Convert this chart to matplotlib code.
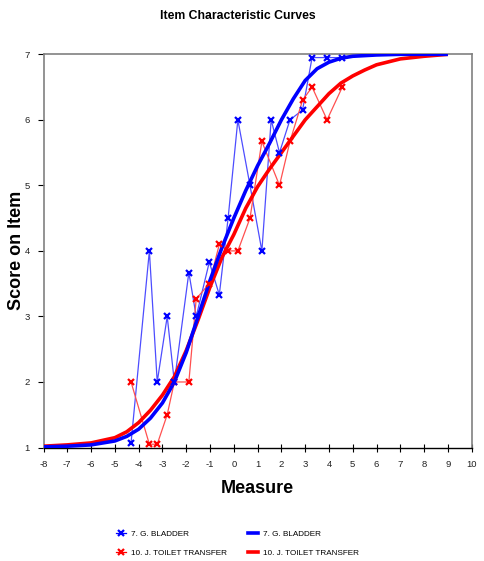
import matplotlib
matplotlib.use('Agg')
import matplotlib.pyplot as plt
from matplotlib.lines import Line2D

plt.rcParams['axes.unicode_minus'] = False

obs_x_blue = [-4.32, -3.55, -3.22, -2.8, -2.5, -1.89, -1.58, -1.03, -0.61, -0.24,
              0.17, 0.68, 1.18, 1.57, 1.92, 2.36, 2.89, 3.29, 3.92, 4.56]
obs_y_blue = [1.07, 4.0, 2.0, 3.0, 2.0, 3.67, 3.0, 3.83, 3.33, 4.5,
              6.0, 5.0, 4.0, 6.0, 5.5, 6.0, 6.15, 6.95, 6.95, 6.95]

obs_x_red = [-4.32, -3.55, -3.22, -2.8, -2.5, -1.89, -1.58, -1.03, -0.61, -0.24,
             0.17, 0.68, 1.18, 1.92, 2.36, 2.89, 3.29, 3.92, 4.56]
obs_y_red = [2.0, 1.05, 1.05, 1.5, 2.0, 2.0, 3.27, 3.5, 4.1, 4.0,
             4.0, 4.5, 5.67, 5.0, 5.67, 6.3, 6.5, 6.0, 6.5]

# Expected score curves (model)
curve_x = [-8, -7, -6, -5, -4.5, -4, -3.5, -3, -2.5, -2, -1.5, -1, -0.5, 0,
           0.5, 1, 1.5, 2, 2.5, 3, 3.5, 4, 4.5, 5, 5.5, 6, 7, 8, 9]
curve_blue = [1.01, 1.02, 1.04, 1.1, 1.17, 1.28, 1.45, 1.68, 2.0, 2.45, 3.0, 3.55, 4.05, 4.5,
              4.92, 5.3, 5.64, 6.0, 6.32, 6.6, 6.78, 6.88, 6.94, 6.97, 6.98, 6.99, 7.0, 7.0, 7.0]
curve_red = [1.02, 1.04, 1.07, 1.15, 1.24, 1.38, 1.57, 1.8, 2.08, 2.48, 2.95, 3.45, 3.9, 4.25,
             4.65, 4.98, 5.25, 5.5, 5.75, 6.0, 6.2, 6.4, 6.56, 6.67, 6.76, 6.84, 6.93, 6.97, 7.0]

labels = ['7. G. BLADDER', '10. J. TOILET TRANSFER']

narrow = ['Liberation Sans Narrow', 'Liberation Sans', 'DejaVu Sans']
wide = ['Liberation Sans', 'DejaVu Sans']

fig = plt.figure(figsize=(4.85, 5.61), dpi=100)
ax = fig.add_axes([0.0897, 0.2023, 0.8829, 0.7009])

ax.plot(obs_x_blue, obs_y_blue, color='#4d4dff', lw=0.9, zorder=2)
ax.plot(obs_x_red, obs_y_red, color='#ff5050', lw=0.9, zorder=2)
ax.plot(curve_x, curve_red, color='#ff0000', lw=2.6, zorder=3, solid_capstyle='butt')
ax.plot(curve_x, curve_blue, color='#0000ff', lw=2.6, zorder=3, solid_capstyle='butt')
ax.plot(obs_x_red, obs_y_red, ls='none', marker='x', ms=5, mew=1.6, color='#ff0000', zorder=4)
ax.plot(obs_x_blue, obs_y_blue, ls='none', marker='x', ms=5, mew=1.6, color='#0000ff', zorder=4)

ax.set_xlim(-8, 10)
ax.set_ylim(1, 7)
ax.set_xticks(range(-8, 11))
ax.set_yticks(range(1, 8))

for s in ['left', 'top', 'right']:
    ax.spines[s].set_color('#808080')
    ax.spines[s].set_linewidth(1.2)
ax.spines['bottom'].set_color('black')
ax.spines['bottom'].set_linewidth(1.0)

ax.tick_params(axis='x', direction='inout', length=6, width=0.8, pad=6, labelsize=6.8, labelcolor='#222222')
ax.tick_params(axis='y', direction='out', length=4, width=0.8, pad=6, labelsize=6.8, labelcolor='#222222')
for lab in ax.get_xticklabels() + ax.get_yticklabels():
    lab.set_family(narrow)

fig.text(0.49, 0.971, 'Item Characteristic Curves', ha='center', va='center',
         fontsize=8.8, fontweight='bold', family=narrow)
ax.set_xlabel('Measure', fontsize=13, fontweight='bold', family=wide, labelpad=8)
fig.text(0.035, 0.553, 'Score on Item', rotation=90, ha='center', va='center',
         fontsize=13, fontweight='bold', family=wide)

handles = [
    Line2D([], [], color='#0000ff', marker='x', ms=5, mew=1.6, lw=0.9),
    Line2D([], [], color='#ff0000', marker='x', ms=5, mew=1.6, lw=0.9),
    Line2D([], [], color='#0000ff', lw=2.6),
    Line2D([], [], color='#ff0000', lw=2.6),
]
leg = fig.legend(handles, labels + labels, ncol=2, loc='upper left', bbox_to_anchor=(0.232, 0.060),
                 frameon=False, handlelength=1.2, handletextpad=0.6, borderaxespad=0,
                 columnspacing=2.6, labelspacing=1.35, prop={'family': narrow, 'size': 5.9})

fig.savefig('out.png', dpi=100)
